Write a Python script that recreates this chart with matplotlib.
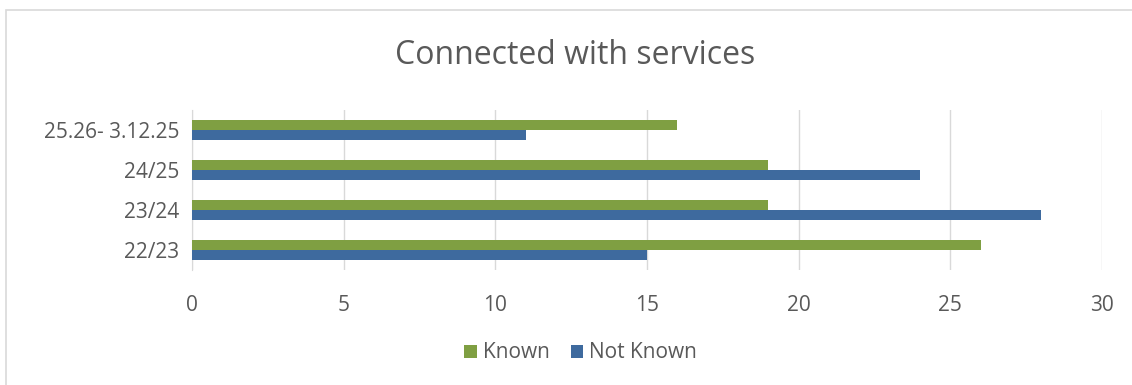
import matplotlib.pyplot as plt
import numpy as np
from matplotlib.patches import Rectangle

categories = ['22/23', '23/24', '24/25', '25.26- 3.12.25']
known = [26, 19, 19, 16]
not_known = [15, 28, 24, 11]

green = '#7F9F42'
blue = '#3E6A9E'
text_col = '#595959'

plt.rcParams['font.family'] = ['Open Sans', 'DejaVu Sans']

fig = plt.figure(figsize=(11.32, 3.85), dpi=100)
ax = fig.add_axes([192/1132, 1 - 270/385, 910/1132, 160/385])

y = np.arange(len(categories))
h = 0.26
ax.barh(y + h/2, known, height=h, color=green, label='Known', zorder=3)
ax.barh(y - h/2, not_known, height=h, color=blue, label='Not Known', zorder=3)

ax.set_xlim(0, 30)
ax.set_ylim(-0.5, len(categories) - 0.5)
ax.set_xticks(range(0, 31, 5))
ax.set_yticks(y)
ax.set_yticklabels(categories)
ax.grid(axis='x', color='#D9D9D9', linewidth=1, zorder=0)
for s in ['top', 'right', 'bottom']:
    ax.spines[s].set_visible(False)
ax.spines['left'].set_color('#D9D9D9')
ax.tick_params(length=0, labelsize=15, colors=text_col, pad=9)
ax.tick_params(axis='x', pad=18)

fig.text(0.508, 1 - 55/385, 'Connected with services', ha='center', va='center',
         fontsize=23, color=text_col)

fig.legend(loc='center', bbox_to_anchor=(0.513, 1 - 353/385), ncol=2, frameon=False,
           fontsize=15, labelcolor=text_col, handlelength=0.6, handleheight=0.6,
           columnspacing=1.0, handletextpad=0.3)

fig.add_artist(Rectangle((6/1132, -0.1), 1.2, 1 - 10/385 + 0.1,
                         transform=fig.transFigure, fill=False,
                         edgecolor='#D9D9D9', linewidth=1.2))

fig.savefig('out.png', dpi=100, facecolor='white')
